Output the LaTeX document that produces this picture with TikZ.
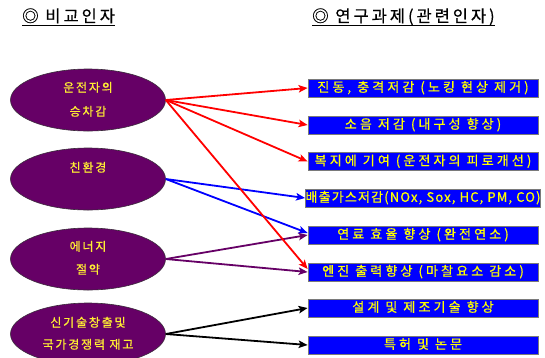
\documentclass[tikz,border=0pt]{standalone}
\usepackage{fontspec}
\setmainfont{Noto Sans CJK KR}
\newfontfamily\krhead[LetterSpace=18,FakeBold=0.5]{Noto Sans CJK KR}
\newfontfamily\krbox[LetterSpace=24,FakeBold=0.8]{Noto Sans CJK KR}
\newfontfamily\krboxn[LetterSpace=9,FakeBold=0.8]{Noto Sans CJK KR}
\newfontfamily\krell[LetterSpace=15,FakeBold=0.8]{Noto Sans CJK KR}
\newcommand\htxt{\krhead\fontsize{16.5}{19}\selectfont}
\newcommand\btxt{\krbox\fontsize{13}{15}\selectfont}
\newcommand\btxtn{\krboxn\fontsize{13}{15}\selectfont}
\newcommand\etxt{\krell\fontsize{12}{14}\selectfont}
\usetikzlibrary{arrows.meta,shapes.geometric}
\definecolor{ellpurple}{HTML}{660066}
\definecolor{ellborder}{HTML}{3A2A3A}
\definecolor{ellyellow}{HTML}{FFEE33}
\definecolor{boxblue}{HTML}{0000FF}
\definecolor{boxgray}{HTML}{7A7A7A}
\definecolor{boxyellow}{HTML}{FFFF00}
\definecolor{linkred}{HTML}{FF0000}
\definecolor{linkblue}{HTML}{0000FF}
\definecolor{linkpurple}{HTML}{660066}
\tikzset{
  ell/.style={ellipse, fill=ellpurple, draw=ellborder, line width=0.6pt,
    minimum width=155pt, minimum height=62pt, inner sep=0pt},
  elltxt/.style={text=ellyellow, font=\etxt, inner sep=0pt,
    text height=0.83em, text depth=0.07em},
  taskbox/.style={rectangle, fill=boxblue, draw=boxgray, line width=0.8pt,
    minimum width=230pt, minimum height=18pt, inner sep=0pt,
    text=boxyellow, font=\btxt, text height=0.83em, text depth=0.07em},
  hdr/.style={font=\htxt, inner sep=0pt, anchor=base west, text=black},
  link/.style={line width=1.8pt, -{Stealth[length=9pt,width=7.5pt,inset=2pt]}},
}
\begin{document}
\begin{tikzpicture}[x=1pt,y=-1pt]
\clip (0,0) rectangle (545,357);
\fill[white] (0,0) rectangle (545,357);

% headers
\node[hdr] (h1) at (22,22) {◎ 비교인자};
\node[hdr] (h2) at (312,22) {◎ 연구과제(관련인자)};
\draw[line width=1pt] ([yshift=-3pt]h1.base west) -- ([yshift=-3pt]h1.base east);
\draw[line width=1pt] ([yshift=-3pt]h2.base west) -- ([yshift=-3pt]h2.base east);

% ellipses
\node[ell] (e1) at (88,100) {};
\node[ell] (e2) at (88,179) {};
\node[ell] (e3) at (88,259) {};
\node[ell] (e4) at (88,334) {};
\node[elltxt] (t1a) at (88,88) {운전자의};
\node[elltxt] (t1b) at (88,112) {승차감};
\node[elltxt] (t2a) at (88,168) {친환경};
\node[elltxt] (t3a) at (88,247) {에너지};
\node[elltxt] (t3b) at (88,270) {절약};
\node[elltxt] (t4a) at (88,323) {신기술창출및};
\node[elltxt] (t4b) at (88,345) {국가경쟁력 재고};

% task boxes
\node[taskbox] (r1) at (423,88) {진동, 충격저감 (노킹 현상 제거)};
\node[taskbox] (r2) at (423,125) {소음 저감 (내구성 향상)};
\node[taskbox] (r3) at (423,161.5) {복지에 기여 (운전자의 피로개선)};
\node[taskbox, font=\btxtn] (r4) at (423,198) {배출가스저감(NOx, Sox, HC, PM, CO)};
\node[taskbox] (r5) at (423,235) {연료 효율 향상 (완전연소)};
\node[taskbox] (r6) at (423,272) {엔진 출력향상 (마찰요소 감소)};
\node[taskbox] (r7) at (423,308) {설계 및 제조기술 향상};
\node[taskbox] (r8) at (423,345) {특허 및 논문};

% connectors
\draw[link, linkblue] (e2.east) -- (r4.west);
\draw[link, linkblue] (e2.east) -- ([yshift=2pt]r5.west);
\draw[link, linkpurple] (e3.east) -- (r5.west);
\draw[link, linkpurple] (e3.east) -- (r6.west);
\draw[link, linkred] (e1.east) -- (r1.west);
\draw[link, linkred] (e1.east) -- (r2.west);
\draw[link, linkred] (e1.east) -- (r3.west);
\draw[link, linkred] (e1.east) -- ([yshift=3pt]r6.west);
\draw[link, black] (e4.east) -- (r7.west);
\draw[link, black] (e4.east) -- (r8.west);
\end{tikzpicture}
\end{document}
